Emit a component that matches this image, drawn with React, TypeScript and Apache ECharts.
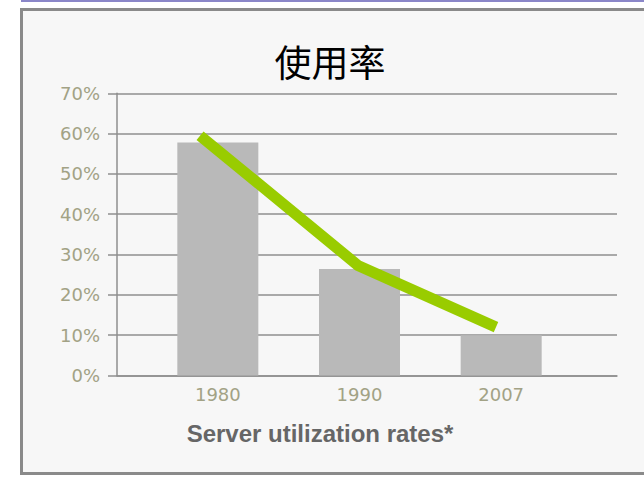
import React, { useEffect, useRef } from "react";
import * as echarts from "echarts";

const categories = ["1980", "1990", "2007"];
const barValues = [0.578, 0.264, 0.1];
// trend line: x in category units (0 = 1980 centre), y as fraction
const lineX = [-0.127, 0.988, 1.962];
const lineY = [0.595, 0.273, 0.12];
const yTicks = [0, 0.1, 0.2, 0.3, 0.4, 0.5, 0.6, 0.7];
const chartTitle = "使用率";
const axisTitle = "Server utilization rates*";

export default function App() {
  const ref = useRef<HTMLDivElement>(null);
  useEffect(() => {
    if (!ref.current) return;
    const chart = echarts.init(ref.current, null, { renderer: "svg" });
    const labelColor = "#a2a285";
    const gridColor = "#8f8f8f";
    const top = 93.3;
    const bottom = 477 - 375.5;
    chart.setOption({
      animation: false,
      backgroundColor: "#ffffff",
      graphic: [
        { type: "rect", z: -10, shape: { x: 21, y: 0, width: 640, height: 2 }, style: { fill: "#8a86c8" } },
        {
          type: "rect",
          z: -10,
          shape: { x: 21.5, y: 9.5, width: 700, height: 464 },
          style: { fill: "#f7f7f7", stroke: "#8a8a8a", lineWidth: 3 },
        },
        {
          type: "text",
          z: 10,
          x: 330,
          y: 61,
          style: {
            text: chartTitle,
            fill: "#000000",
            font: "normal 37px 'Noto Sans CJK SC'",
            align: "center",
            verticalAlign: "middle",
          },
        },
        {
          type: "text",
          z: 10,
          x: 320,
          y: 433,
          style: {
            text: axisTitle,
            fill: "#666666",
            font: "bold 24px 'Liberation Sans', Arial, sans-serif",
            align: "center",
            verticalAlign: "middle",
          },
        },
      ],
      grid: [
        { left: 117, right: 27, top, bottom },
        { left: 147, width: 425, top, bottom },
      ],
      xAxis: [
        {
          type: "value",
          gridIndex: 0,
          min: -0.713,
          max: 2.816,
          axisLine: { show: true, onZero: false, lineStyle: { color: gridColor, width: 1.5 } },
          axisTick: { show: false },
          axisLabel: { show: false },
          splitLine: { show: false },
        },
        {
          type: "category",
          gridIndex: 1,
          data: categories,
          axisLine: { show: false },
          axisTick: { show: false },
          axisLabel: {
            color: labelColor,
            fontSize: 18,
            fontFamily: "'DejaVu Sans', sans-serif",
            margin: 10,
          },
        },
      ],
      yAxis: [
        {
          type: "value",
          gridIndex: 0,
          min: yTicks[0],
          max: yTicks[yTicks.length - 1],
          interval: 0.1,
          axisLine: { show: true, onZero: false, lineStyle: { color: gridColor, width: 1.5 } },
          axisTick: { show: true, length: 9, inside: false, lineStyle: { color: gridColor, width: 1.5 } },
          axisLabel: {
            color: labelColor,
            fontSize: 18,
            fontFamily: "'DejaVu Sans', sans-serif",
            margin: 17,
            formatter: (v: number) => Math.round(v * 100) + "%",
          },
          splitLine: { show: true, lineStyle: { color: gridColor, width: 1.5 } },
        },
        {
          type: "value",
          gridIndex: 1,
          min: yTicks[0],
          max: yTicks[yTicks.length - 1],
          show: false,
        },
      ],
      series: [
        {
          type: "bar",
          xAxisIndex: 1,
          yAxisIndex: 1,
          data: barValues,
          barWidth: 81,
          itemStyle: { color: "#b9b9b9" },
          z: 3,
        },
        {
          type: "line",
          xAxisIndex: 0,
          yAxisIndex: 0,
          data: lineX.map((x, i) => [x, lineY[i]]),
          symbol: "none",
          lineStyle: { color: "#99cc00", width: 11, cap: "butt", join: "miter" },
          z: 4,
        },
      ],
    });
    return () => chart.dispose();
  }, []);
  return (
    <div
      ref={ref}
      style={{ position: "fixed", left: 0, top: 0, width: 644, height: 477 }}
    />
  );
}
